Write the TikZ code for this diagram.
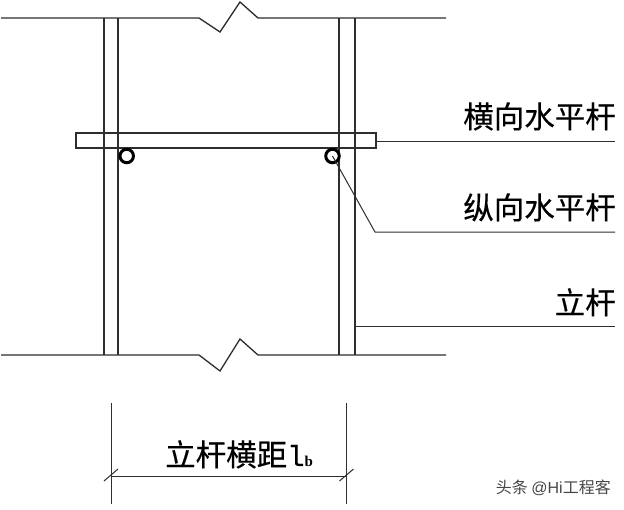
\documentclass[tikz,border=0pt]{standalone}
\usepackage{fontspec}
\setmainfont{Liberation Serif}
\newfontfamily\cjk[FakeBold=0.35]{Noto Sans CJK SC}
\newfontfamily\cjkw{Noto Sans CJK SC}
\newfontfamily\wm{Liberation Sans}
\newfontfamily\lm[FakeBold=0.3]{Liberation Mono}
\begin{document}
\begin{tikzpicture}[x=1pt,y=-1pt,
  ln/.style={draw=black!82,line width=1.3pt,line join=miter},
  thin ln/.style={draw=black!82,line width=1pt},
  lbl/.style={inner sep=0pt,anchor=base east,text=black,font=\cjk\fontsize{30.5}{30}\selectfont},
  mark ring/.style={circle,draw=black,line width=3pt,minimum size=13.5pt,inner sep=0pt,fill=white}]
\useasboundingbox[fill=white] (0,0) rectangle (624,509);
% frame lines with break marks
\draw[ln] (1,18) -- (199,18) -- (220,32) -- (240,2) -- (258,18) -- (446,18);
\draw[ln] (1,355) -- (199,355) -- (220,371) -- (240,339) -- (258,355) -- (446,355);
% posts
\foreach \x in {104,118,339,355} \draw[ln] (\x,18) -- (\x,355);
% cross bar
\draw[ln] (76,133) rectangle (376,148);
% tubes
\node[mark ring] (t1) at (126.7,156) {};
\node[mark ring] (t2) at (332.5,156) {};
% leaders
\coordinate (barend) at (376,141);
\coordinate (l1) at (615,141);
\coordinate (bend) at (375,232);
\coordinate (l2) at (615,232);
\coordinate (posta) at (355,326);
\coordinate (l3) at (615,326);
\draw[thin ln] (barend) -- (l1);
\draw[thin ln] (t2.center) -- (bend) -- (l2);
\draw[thin ln] (posta) -- (l3);
% labels
\node[lbl] (a) at (616,128) {横向水平杆};
\node[lbl] (b) at (616,219) {纵向水平杆};
\node[lbl] (c) at (616,314) {立杆};
% dimension
\coordinate (d1t) at (111,403); \coordinate (d1b) at (111,504);
\coordinate (d2t) at (346.5,403); \coordinate (d2b) at (346.5,504);
\coordinate (m1) at (111,476); \coordinate (m2) at (346.5,476);
\draw[thin ln] (d1t) -- (d1b);
\draw[thin ln] (d2t) -- (d2b);
\draw[thin ln] (m1) -- (m2);
\draw[thin ln] (104,481) -- (118,469);
\draw[thin ln] (339.5,481) -- (353.5,469);
\node[inner sep=0pt,anchor=base west] (dim) at (165,466) {{\cjk\fontsize{30.5}{30}\selectfont 立杆横距}{\lm\fontsize{29}{29}\selectfont l}{\fontsize{15}{15}\bfseries\selectfont b}};
% watermark
\node[inner sep=0pt,anchor=base east,text=black!72] (w) at (611,493) {{\cjkw\fontsize{16}{16}\selectfont 头条 }{\wm\fontsize{16}{16}\selectfont @Hi}{\cjkw\fontsize{16}{16}\selectfont 工程客}};
\end{tikzpicture}
\end{document}
